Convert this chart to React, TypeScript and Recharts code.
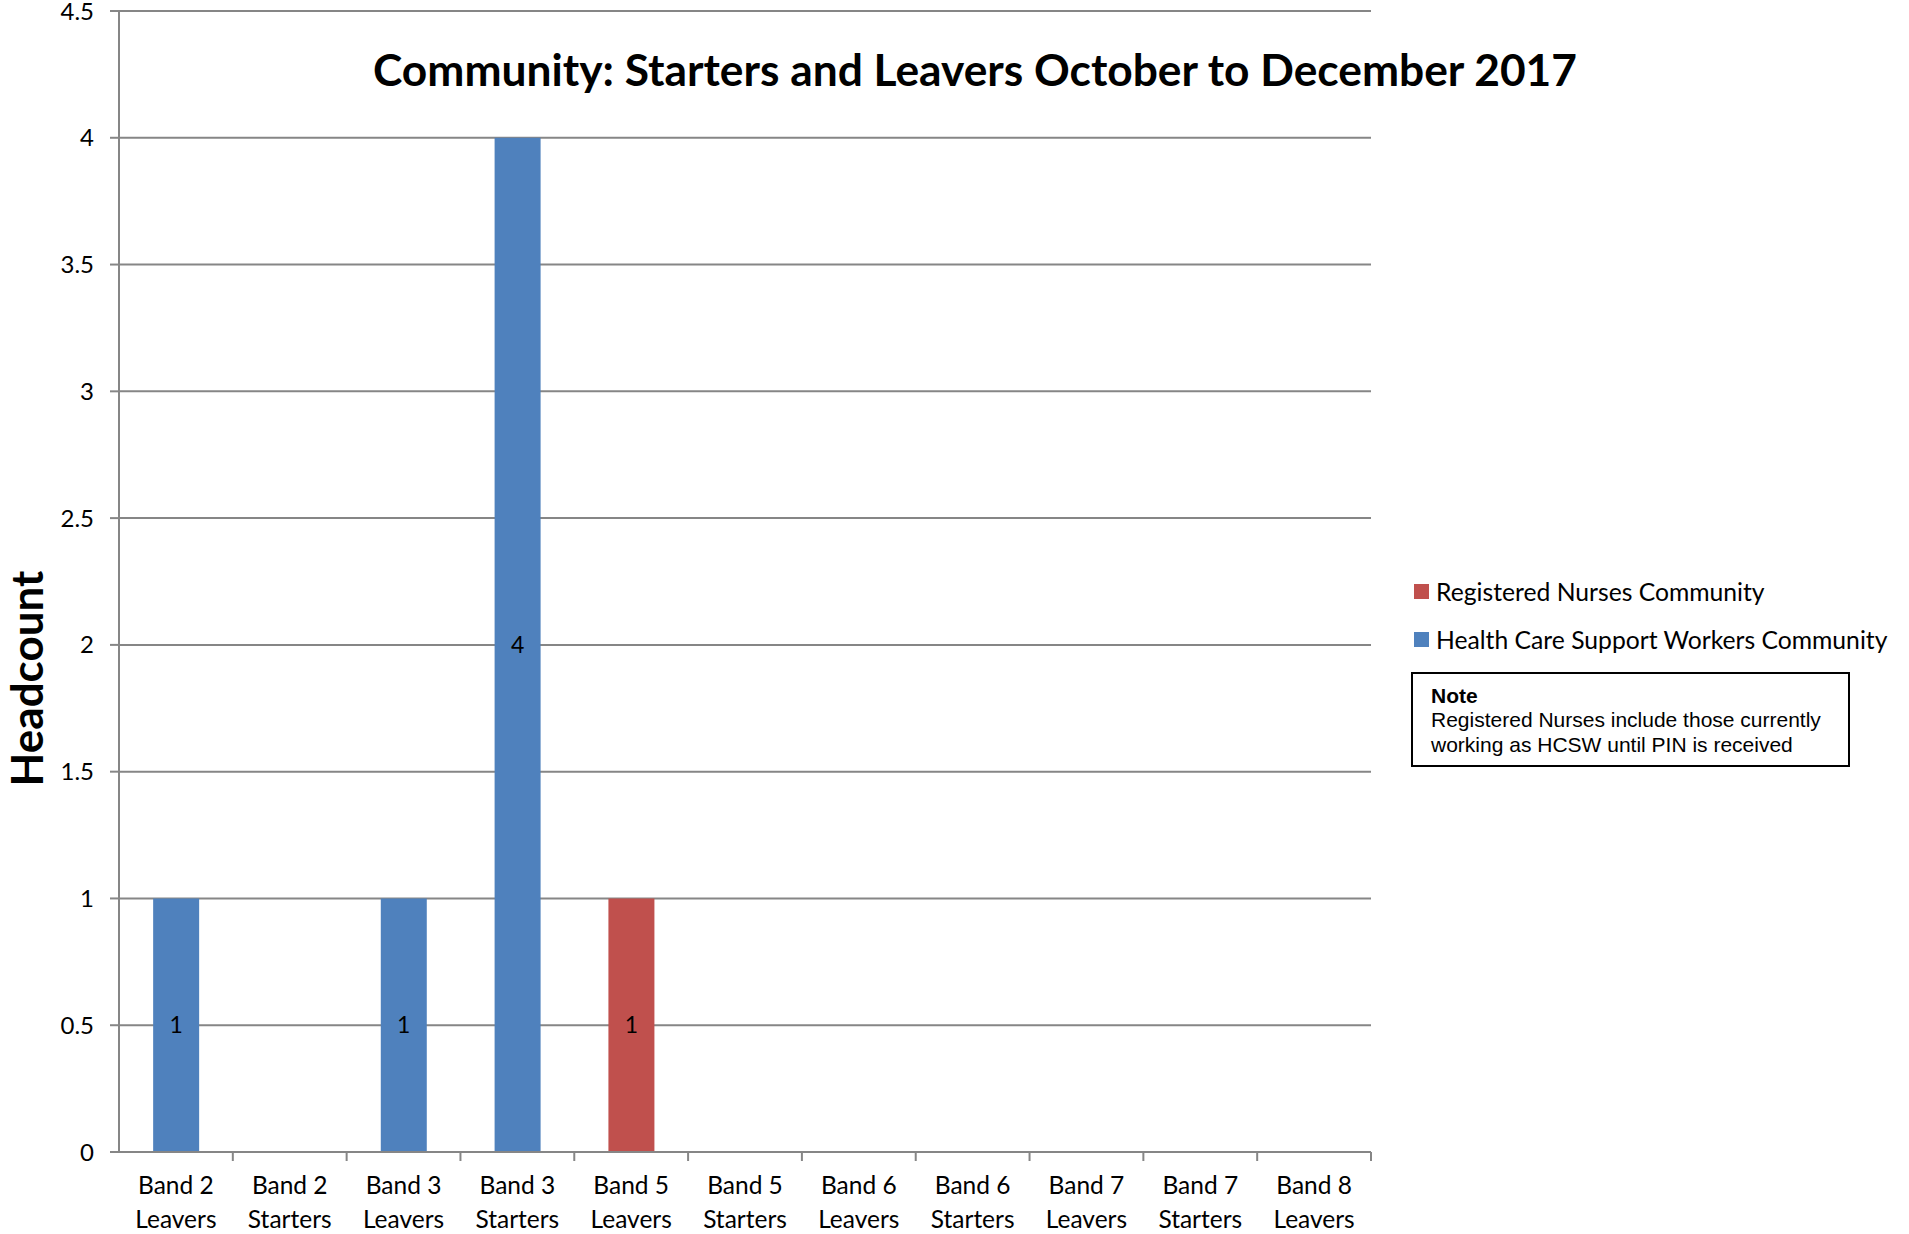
import React from 'react';
import { BarChart, Bar, XAxis, YAxis, CartesianGrid, LabelList, Label } from 'recharts';

const categories = [
  'Band 2 Leavers', 'Band 2 Starters', 'Band 3 Leavers', 'Band 3 Starters',
  'Band 5 Leavers', 'Band 5 Starters', 'Band 6 Leavers', 'Band 6 Starters',
  'Band 7 Leavers', 'Band 7 Starters', 'Band 8 Leavers',
];
const registeredNurses = [0, 0, 0, 0, 1, 0, 0, 0, 0, 0, 0];
const healthCareSupport = [1, 0, 1, 4, 0, 0, 0, 0, 0, 0, 0];
const yTicks = [0, 0.5, 1, 1.5, 2, 2.5, 3, 3.5, 4, 4.5];

const title = 'Community: Starters and Leavers October to December 2017';
const seriesNames = ['Registered Nurses Community', 'Health Care Support Workers Community'];
const noteTitle = 'Note';
const noteLines = ['Registered Nurses include those currently', 'working as HCSW until PIN is received'];

const data = categories.map((c, i) => ({
  name: c,
  hcsw: healthCareSupport[i],
  rn: registeredNurses[i],
}));

const FONT = 'Lato, "Open Sans", sans-serif';
const AXIS = '#868686';
const BLUE = '#4F81BD';
const RED = '#C0504D';

const W = 1909;
const H = 1234;
const M = { top: 11, right: 538, bottom: 0, left: 0 };
const YW = 119;
const XH = 82;
const BAND = (W - M.right - M.left - YW) / categories.length;

const XTick = (props: any) => {
  const { x, y, payload, index } = props;
  const parts = String(payload.value).split(' ');
  const l1 = parts.slice(0, 2).join(' ');
  const l2 = parts.slice(2).join(' ');
  return (
    <g>
      {index > 0 && (
        <line x1={x - BAND / 2} x2={x - BAND / 2} y1={y - 8} y2={y + 1} stroke={AXIS} strokeWidth={2} />
      )}
      {index === categories.length - 1 && (
        <line x1={x + BAND / 2} x2={x + BAND / 2} y1={y - 8} y2={y + 1} stroke={AXIS} strokeWidth={2} />
      )}
      <text x={x} y={y + 34} textAnchor="middle" fontFamily={FONT} fontSize={24.5} fill="#000">{l1}</text>
      <text x={x} y={y + 68} textAnchor="middle" fontFamily={FONT} fontSize={24.5} fill="#000">{l2}</text>
    </g>
  );
};

const ValueLabel = (props: any) => {
  const { x, y, width, height, value } = props;
  if (!value) return null;
  return (
    <text x={x + width / 2} y={y + height / 2} dy={8} textAnchor="middle" fontFamily={FONT} fontSize={23} fill="#000">
      {value}
    </text>
  );
};

export default function App() {
  return (
    <div style={{ position: 'absolute', left: 0, top: 0, width: W, height: H, background: '#fff' }}>
      <BarChart width={W} height={H} data={data} margin={M} barCategoryGap="30%">
        <CartesianGrid horizontal vertical={false} stroke={AXIS} strokeWidth={2} />
        <XAxis
          dataKey="name"
          interval={0}
          height={XH}
          axisLine={{ stroke: AXIS, strokeWidth: 2 }}
          tickLine={false}
          tick={<XTick />}
        />
        <YAxis
          width={YW}
          domain={[0, 4.5]}
          ticks={yTicks}
          interval={0}
          axisLine={{ stroke: AXIS, strokeWidth: 2 }}
          tickLine={{ stroke: AXIS, strokeWidth: 2 }}
          tickSize={9}
          tickMargin={16}
          tick={{ fontFamily: FONT, fontSize: 24, fill: '#000' }}
        >
          <Label
            value="Headcount"
            angle={-90}
            position="insideLeft"
            offset={0}
            style={{ fontFamily: FONT, fontSize: 44, fontWeight: 700, fill: '#000', textAnchor: 'middle' }}
            dx={27}
            dy={97}
          />
        </YAxis>
        <Bar dataKey="hcsw" stackId="a" fill={BLUE} name={seriesNames[1]} isAnimationActive={false}>
          <LabelList dataKey="hcsw" content={<ValueLabel />} />
        </Bar>
        <Bar dataKey="rn" stackId="a" fill={RED} name={seriesNames[0]} isAnimationActive={false}>
          <LabelList dataKey="rn" content={<ValueLabel />} />
        </Bar>
      </BarChart>
      <div
        style={{
          position: 'absolute', left: 0, top: 43, width: 1950, textAlign: 'center',
          fontFamily: FONT, fontWeight: 700, fontSize: 44.3, color: '#000', lineHeight: '52px',
        }}
      >
        {title}
      </div>
      <div style={{ position: 'absolute', left: 1414, top: 567, fontFamily: FONT, fontSize: 24.7, color: '#000' }}>
        {[{ n: seriesNames[0], c: RED }, { n: seriesNames[1], c: BLUE }].map((s, i) => (
          <div key={i} style={{ display: 'flex', alignItems: 'center', height: 48, whiteSpace: 'nowrap' }}>
            <span style={{ display: 'inline-block', width: 15, height: 15, background: s.c, marginRight: 7 }} />
            <span>{s.n}</span>
          </div>
        ))}
      </div>
      <div
        style={{
          position: 'absolute', left: 1411, top: 672, width: 439, height: 95, boxSizing: 'border-box',
          border: '2px solid #000', padding: '10px 0 0 18px', fontFamily: '"Liberation Sans", Arial, sans-serif',
          fontSize: 21, lineHeight: '24.4px', color: '#000', background: '#fff',
        }}
      >
        <div style={{ fontWeight: 700 }}>{noteTitle}</div>
        {noteLines.map((l, i) => (<div key={i}>{l}</div>))}
      </div>
    </div>
  );
}
